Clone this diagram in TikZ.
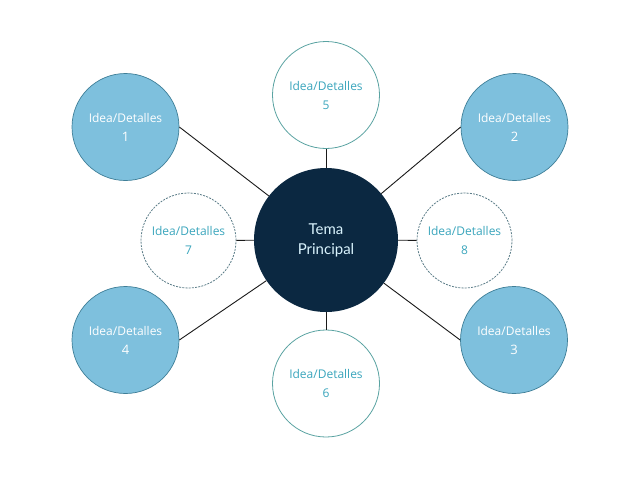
\documentclass[tikz,border=0pt]{standalone}
\usepackage{fontspec}
\setmainfont{Open Sans}
\newfontfamily\latofont{Lato}
\definecolor{bluefill}{HTML}{7EC0DD}
\definecolor{blueedge}{HTML}{3F7F98}
\definecolor{darkc}{HTML}{0B2841}
\definecolor{tealedge}{HTML}{5AA3A2}
\definecolor{tealtext}{HTML}{3BA6BD}
\definecolor{dashedge}{HTML}{5E7F8A}
\definecolor{linec}{HTML}{1A1A1A}
\begin{document}
\begin{tikzpicture}[x=1pt,y=-1pt,
  bluebub/.style={circle,draw=blueedge,line width=0.7pt,fill=bluefill,minimum size=107pt,inner sep=0pt,align=center,text=white,font=\fontsize{12}{19}\selectfont},
  whitebub/.style={circle,draw=tealedge,line width=0.8pt,fill=white,minimum size=107pt,inner sep=0pt,align=center,text=tealtext,font=\fontsize{12}{19}\selectfont},
  dashbub/.style={circle,draw=dashedge,line width=0.8pt,dash pattern=on 2pt off 1.2pt,fill=white,minimum size=95pt,inner sep=0pt,align=center,text=tealtext,font=\fontsize{12}{19}\selectfont},
  mainbub/.style={circle,draw=none,fill=darkc,minimum size=144pt,inner sep=0pt,align=center,text=white!85!cyan,font=\latofont\fontsize{15}{20}\selectfont},
  conn/.style={draw=linec,line width=0.9pt}]
\useasboundingbox (0,0) rectangle (640,480);
\fill[white] (0,0) rectangle (640,480);
\node[mainbub] (c0) at (326,240) {Tema\\Principal};
\node[bluebub] (c1) at (125.5,127) {Idea/Detalles\\\fontsize{13}{19}\selectfont 1};
\node[bluebub] (c2) at (514.5,127) {Idea/Detalles\\\fontsize{13}{19}\selectfont 2};
\node[bluebub] (c3) at (514,340) {Idea/Detalles\\\fontsize{13}{19}\selectfont 3};
\node[bluebub] (c4) at (125.5,340) {Idea/Detalles\\\fontsize{13}{19}\selectfont 4};
\node[whitebub] (c5) at (326,95) {Idea/Detalles\\5};
\node[whitebub] (c6) at (326,383.5) {Idea/Detalles\\6};
\node[dashbub] (c7) at (188.5,240.5) {Idea/Detalles\\7};
\node[dashbub] (c8) at (464.5,240.5) {Idea/Detalles\\8};
\draw[conn] (c1.east) -- (c0);
\draw[conn] (c2.west) -- (c0);
\draw[conn] (c3.west) -- (c0);
\draw[conn] (c4.east) -- (c0);
\draw[conn] (c5) -- (c0);
\draw[conn] (c0) -- (c6);
\draw[conn] (c7) -- (c0);
\draw[conn] (c0) -- (c8);
\end{tikzpicture}
\end{document}
